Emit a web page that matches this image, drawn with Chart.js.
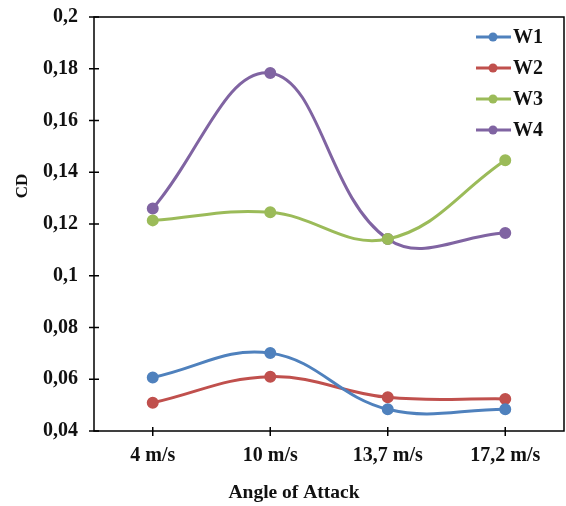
<!DOCTYPE html>
<html>
<head>
<meta charset="utf-8">
<script src="https://cdn.jsdelivr.net/npm/chart.js@4"></script>
<style>
  html, body { margin: 0; padding: 0; background: #fff; }
</style>
</head>
<body>
<canvas id="cdChart" width="566" height="506"></canvas>
<script>
// Wind speeds on the category axis
const speeds = ["4 m/s", "10 m/s", "13,7 m/s", "17,2 m/s"];

// Drag coefficient per blade
const w1 = [0.0607, 0.0701, 0.0484, 0.0484];
const w2 = [0.0509, 0.0610, 0.0530, 0.0524];
const w3 = [0.1214, 0.1245, 0.1142, 0.1446];
const w4 = [0.1260, 0.1784, 0.1142, 0.1165];

const seriesNames = ["W1", "W2", "W3", "W4"];
const seriesColors = ["#4F81BD", "#C0504D", "#9BBB59", "#8064A2"];

// Y axis range
const yMin = 0.04, yMax = 0.2, yStep = 0.02;

const serif = "'Liberation Serif', 'Times New Roman', serif";

function fmtComma(v) {
    return Number(v.toFixed(2)).toString().replace(".", ",");
}

// Box around the plot + ticks that cross the axes
const framePlugin = {
    id: "frame",
    beforeDatasetsDraw(chart) {
        const { ctx, chartArea: a, scales } = chart;
        ctx.save();
        ctx.strokeStyle = "#000";
        ctx.lineWidth = 1.5;
        ctx.strokeRect(a.left, a.top, a.right - a.left, a.bottom - a.top);

        ctx.beginPath();
        scales.y.ticks.forEach((t, i) => {
            const y = scales.y.getPixelForTick(i);
            ctx.moveTo(a.left - 5, y);
            ctx.lineTo(a.left + 5, y);
        });
        scales.x.ticks.forEach((t, i) => {
            const x = scales.x.getPixelForTick(i);
            ctx.moveTo(x, a.bottom - 4);
            ctx.lineTo(x, a.bottom + 5);
        });
        ctx.stroke();
        ctx.restore();
    }
};

// Legend inside the top right corner, plus axis titles
const labelsPlugin = {
    id: "labels",
    afterDraw(chart) {
        const { ctx, chartArea: a } = chart;
        ctx.save();

        const lx = a.right - 88;
        let ly = a.top + 20;
        chart.data.datasets.forEach(ds => {
            ctx.strokeStyle = ds.borderColor;
            ctx.lineWidth = 3;
            ctx.beginPath();
            ctx.moveTo(lx, ly);
            ctx.lineTo(lx + 35, ly);
            ctx.stroke();
            ctx.fillStyle = ds.borderColor;
            ctx.beginPath();
            ctx.arc(lx + 17, ly, 4.5, 0, Math.PI * 2);
            ctx.fill();

            ctx.fillStyle = "#111";
            ctx.font = "bold 20px " + serif;
            ctx.textBaseline = "middle";
            ctx.textAlign = "left";
            ctx.fillText(ds.label, lx + 37, ly + 1);
            ly += 31;
        });

        ctx.fillStyle = "#111";
        ctx.font = "bold 19.5px " + serif;
        ctx.textAlign = "center";
        ctx.textBaseline = "middle";
        ctx.fillText("Angle of Attack", 294, 493);

        ctx.translate(23, 186);
        ctx.rotate(-Math.PI / 2);
        ctx.font = "bold 17px " + serif;
        ctx.fillText("CD", 0, 0);
        ctx.restore();
    }
};

const datasets = [w1, w2, w3, w4].map((vals, i) => ({
    label: seriesNames[i],
    data: vals,
    borderColor: seriesColors[i],
    backgroundColor: seriesColors[i],
    borderWidth: 3,
    pointRadius: 4.5,
    pointHoverRadius: 4.5,
    tension: 0.4,
    fill: false
}));

new Chart(document.getElementById("cdChart"), {
    type: "line",
    data: { labels: speeds, datasets },
    options: {
        responsive: false,
        animation: false,
        layout: { autoPadding: false, padding: { top: 17, right: 2, left: 0, bottom: 0 } },
        plugins: {
            legend: { display: false },
            tooltip: { enabled: false }
        },
        scales: {
            x: {
                offset: true,
                grid: { display: false, drawTicks: false, offset: true },
                border: { display: false },
                ticks: {
                    color: "#111",
                    padding: 13,
                    maxRotation: 0,
                    font: { family: serif, size: 20, weight: "bold" }
                },
                afterFit(scale) {
                    scale.height = 75;
                    scale.paddingLeft = 0;
                    scale.paddingRight = 0;
                }
            },
            y: {
                min: yMin,
                max: yMax,
                grid: { display: false, drawTicks: false },
                border: { display: false },
                ticks: {
                    stepSize: yStep,
                    color: "#111",
                    padding: 16,
                    font: { family: serif, size: 20, weight: "bold" },
                    callback: v => fmtComma(v)
                },
                afterFit(scale) {
                    scale.width = 94;
                    scale.paddingTop = 0;
                    scale.paddingBottom = 0;
                }
            }
        }
    },
    plugins: [framePlugin, labelsPlugin]
});
</script>
</body>
</html>
